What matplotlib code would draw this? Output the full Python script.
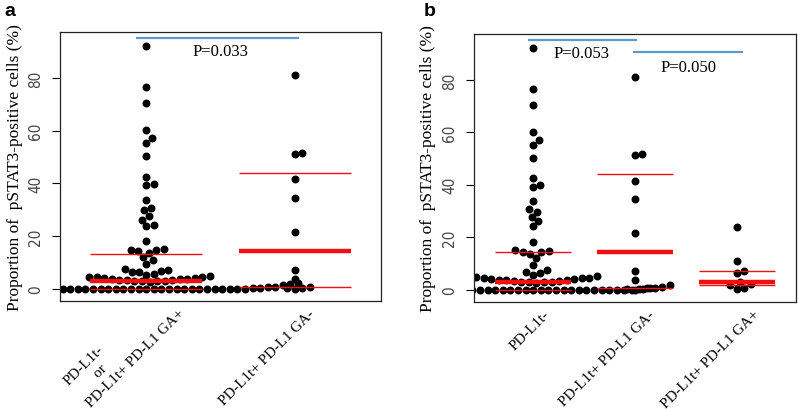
import numpy as np
import matplotlib
matplotlib.use('Agg')
import matplotlib.pyplot as plt
import matplotlib.transforms as mtrans
from matplotlib import font_manager

# pSTAT3-positive cells (%) per patient
pdl1t_neg = [92.0, 76.7, 70.5, 60.3, 57.1, 55.2, 50.4, 42.4, 39.9, 39.2,
             33.8, 30.6, 29.8, 27.6, 26.2, 24.1, 18.2,
             15.0, 14.8, 14.5, 14.3, 13.6, 12.0, 9.4, 7.6, 6.8, 6.3, 5.5, 5.2,
             4.8, 4.6, 4.5, 4.3, 4.1, 4.0, 3.8, 3.7, 3.6, 3.4, 3.3, 3.1, 3.0,
             2.9, 2.8, 2.6,
             1.6, 1.4, 1.2, 1.0, 0.8, 0.6, 0.5, 0.4, 0.3, 0.2,
             0, 0, 0, 0, 0, 0, 0, 0, 0, 0, 0, 0, 0,
             0, 0, 0, 0, 0, 0, 0, 0, 0, 0, 0, 0, 0]
ga_neg = [81.0, 51.7, 51.2, 41.5, 34.5, 21.7, 7.0, 3.6, 0.6, 0.3, 0.1, 0.0]
ga_pos = [23.8, 10.8, 7.1, 6.5, 3.0, 2.0, 1.8, 0.5, 0.4]

labels_a = ['PD-L1t-\n       or\nPD-L1t+ PD-L1 GA+', 'PD-L1t+ PD-L1 GA-']
labels_b = ['PD-L1t-', 'PD-L1t+ PD-L1 GA-', 'PD-L1t+ PD-L1 GA+']
pvals_a = ['P=0.033']
pvals_b = ['P=0.053', 'P=0.050']

names = {f.name for f in font_manager.fontManager.ttflist}
serif = 'Liberation Serif' if 'Liberation Serif' in names else 'DejaVu Serif'
sans = 'Liberation Sans' if 'Liberation Sans' in names else 'DejaVu Sans'
if 'Liberation Sans Narrow' in names:
    narrow, stretch = 'Liberation Sans Narrow', 'normal'
else:
    narrow, stretch = 'DejaVu Sans', 'condensed'

RED = '#f01010'
BLUE = '#5b9bd5'
DOT = 7.6  # dot spacing in pixels


def swarm(vals, dy, dx):
    # beeswarm "swarm" placement, ascending priority
    vals = np.asarray(vals, dtype=float)
    order = np.argsort(vals, kind='stable')
    v = vals[order] / dy
    off = np.zeros(len(v))
    for i in range(1, len(v)):
        xh = v[:i]
        yh = off[:i]
        near = np.abs(v[i] - xh) < 1
        if not near.any():
            continue
        xh = xh[near]
        yh = yh[near]
        po = np.sqrt(1 - (v[i] - xh) ** 2)
        cand = np.concatenate([[0.0], yh + po, yh - po])
        bad = np.array([np.any((v[i] - xh) ** 2 + (c - yh) ** 2 < 0.999) for c in cand])
        cand[bad] = np.inf
        off[i] = cand[np.argmin(np.abs(cand))]
    res = np.empty(len(v))
    res[order] = off * dx
    return res


def draw_panel(ax, groups, labels, lab_dx, lab_y, lab_va):
    n = len(groups)
    ax.set_xlim(0.42, n + 0.58)
    ax.set_ylim(-4.7, 97.5)
    t = ax.transData
    px_x = t.transform([[1, 0]])[0][0] - t.transform([[0, 0]])[0][0]
    px_y = t.transform([[0, 1]])[0][1] - t.transform([[0, 0]])[0][1]
    for i, vals in enumerate(groups, start=1):
        off = swarm(vals, DOT / px_y, DOT / px_x)
        ax.plot(i + off, vals, 'o', color='black', ms=5.7, mew=0, zorder=2)
        q1, med, q3 = np.percentile(vals, [25, 50, 75])
        ax.hlines([q1, q3], i - 0.375, i + 0.375, color=RED, lw=1.0, zorder=3)
        ax.hlines(med, i - 0.375, i + 0.375, color=RED, lw=3.2, zorder=3)
    ax.set_xticks([])
    ax.set_yticks([0, 20, 40, 60, 80])
    ax.tick_params(axis='y', length=6, width=0.8, pad=6, labelsize=11,
                   labelcolor='#444444')
    for lab in ax.get_yticklabels():
        lab.set_rotation(90)
        lab.set_va('center')
        lab.set_family(narrow)
        lab.set_fontstretch(stretch)
    for s in ax.spines.values():
        s.set_linewidth(0.9)
        s.set_color('#222222')
    tr = mtrans.blended_transform_factory(ax.transData, ax.transAxes)
    for i, lab in enumerate(labels, start=1):
        ax.text(i + lab_dx[i - 1], lab_y[i - 1], lab, transform=tr, rotation=45,
                rotation_mode='anchor', ha='right', va=lab_va[i - 1],
                multialignment='left', fontsize=10.8, family=serif,
                linespacing=1.25)


fig = plt.figure(figsize=(7.98, 4.10), dpi=100)
ax_a = fig.add_axes([60 / 798, 108 / 410, 321 / 798, 269 / 410])
ax_b = fig.add_axes([474 / 798, 107 / 410, 322 / 798, 268 / 410])

draw_panel(ax_a, [pdl1t_neg + ga_pos, ga_neg], labels_a, [0.27, 0.12],
           [-0.052, -0.037], ['bottom', 'center'])
draw_panel(ax_b, [pdl1t_neg, ga_neg, ga_pos], labels_b, [0.14, 0.17, 0.20],
           [-0.037, -0.037, -0.037], ['center', 'center', 'center'])

# comparison bars
ax_a.hlines(95.3, 0.93, 2.03, color=BLUE, lw=1.6, zorder=4)
ax_a.text(1.50, 90.2, pvals_a[0], ha='center', va='center', fontsize=12, family=serif)
ax_b.hlines(95.4, 0.95, 2.02, color=BLUE, lw=1.6, zorder=4)
ax_b.hlines(90.7, 1.98, 3.06, color=BLUE, lw=1.6, zorder=4)
ax_b.text(1.48, 90.4, pvals_b[0], ha='center', va='center', fontsize=12, family=serif)
ax_b.text(2.53, 85.0, pvals_b[1], ha='center', va='center', fontsize=12, family=serif)

ylab = 'Proportion of  pSTAT3-positive cells (%)'
fig.text(15 / 798, 0.591, ylab, rotation=90, ha='center', va='center', fontsize=12.5, family=serif)
fig.text(428 / 798, 0.588, ylab, rotation=90, ha='center', va='center', fontsize=12.5, family=serif)
fig.text(10 / 798, 1 - 11 / 410, 'a', ha='center', va='center', fontsize=14, weight='bold', family=sans)
fig.text(430 / 798, 1 - 11 / 410, 'b', ha='center', va='center', fontsize=14, weight='bold', family=sans)

fig.savefig('out.png', dpi=100)
